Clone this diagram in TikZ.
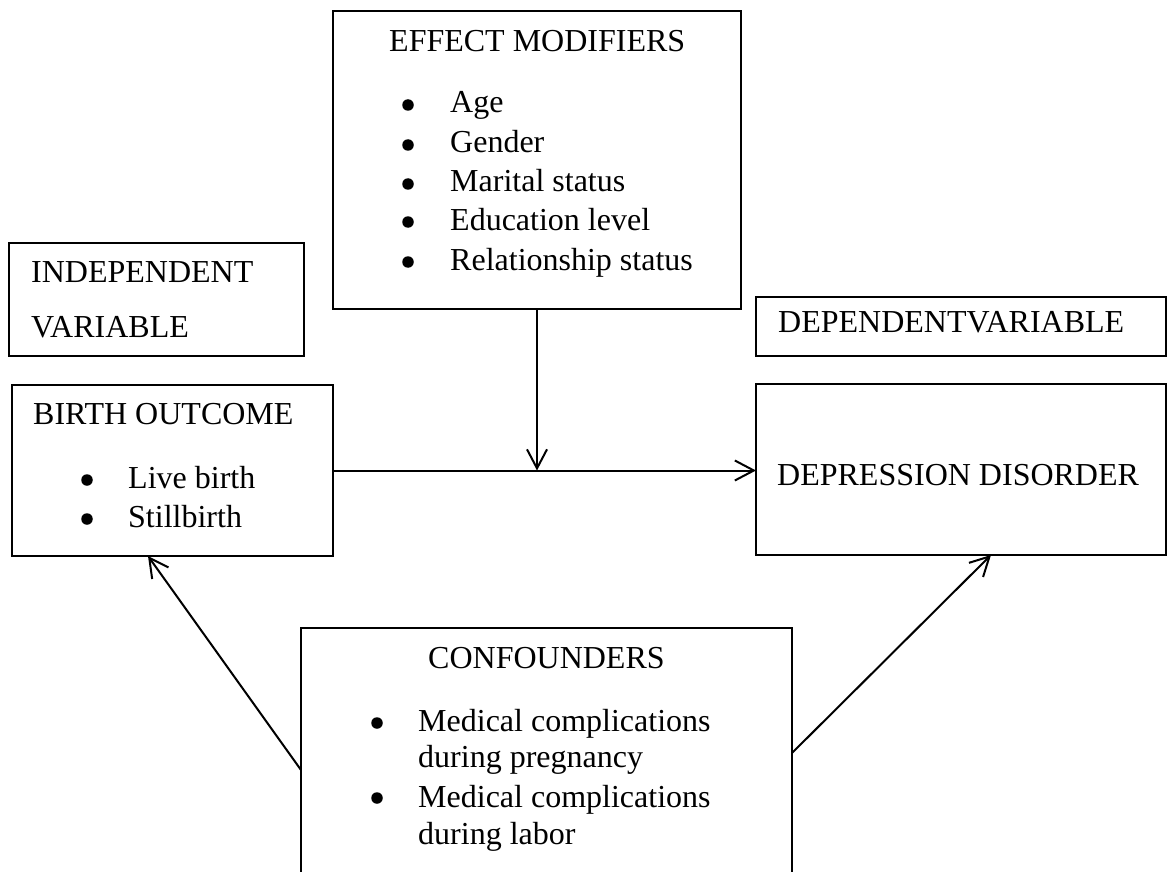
\documentclass[tikz,border=0pt]{standalone}
\usepackage{fontspec}
\setmainfont{Liberation Serif}
\usetikzlibrary{arrows.meta,calc}
\begin{document}
\begin{tikzpicture}[x=1pt,y=-1pt,
 box/.style={draw, line width=2pt, rectangle, inner sep=0pt, outer sep=0pt},
 lbl/.style={anchor=base west, inner sep=0pt, font=\fontsize{32}{38}\selectfont},
 bul/.style={circle, fill, inner sep=0pt, minimum size=11.5pt},
 arr/.style={line width=2pt, -{Straight Barb[length=19pt,width=20pt,line width=2pt]}}]
\useasboundingbox (0,0) rectangle (1176,872);
\clip (0,0) rectangle (1176,872);
% boxes
\node[box, minimum width=408pt, minimum height=298pt] (em) at (537,160) {};
\node[box, minimum width=295pt, minimum height=113pt] (indep) at (156.5,299.5) {};
\node[box, minimum width=321pt, minimum height=171pt] (birth) at (172.5,470.5) {};
\node[box, minimum width=410pt, minimum height=59pt] (dep) at (961,326.5) {};
\node[box, minimum width=410pt, minimum height=171pt] (depr) at (961,469.5) {};
\node[box, minimum width=491pt, minimum height=262pt] (conf) at (546.5,759) {};
% effect modifiers text
\node[lbl] (emt) at (389,52) {EFFECT MODIFIERS};
\node[bul] (emb1) at (408,105) {};
\node[bul] (emb2) at (408,145) {};
\node[bul] (emb3) at (408,184) {};
\node[bul] (emb4) at (408,222) {};
\node[bul] (emb5) at (408,262) {};
\node[lbl] (em1) at (450,113) {Age};
\node[lbl] (em2) at (450,153) {Gender};
\node[lbl] (em3) at (450,192) {Marital status};
\node[lbl] (em4) at (450,230) {Education level};
\node[lbl] (em5) at (450,270) {Relationship status};
% independent
\node[lbl] (ind1) at (31,282) {INDEPENDENT};
\node[lbl] (ind2) at (31,337) {VARIABLE};
% birth outcome
\node[lbl] (bt0) at (33,424) {BIRTH OUTCOME};
\node[bul] (bb1) at (87,480) {};
\node[bul] (bb2) at (87,519) {};
\node[lbl] (bt1) at (128,488) {Live birth};
\node[lbl] (bt2) at (128,527) {Stillbirth};
% dependent
\node[lbl] (dept) at (778,332) {DEPENDENTVARIABLE};
\node[lbl] (deprt) at (777,485) {DEPRESSION DISORDER};
% confounders
\node[lbl] (conft) at (428,668) {CONFOUNDERS};
\node[bul] (cb1) at (377,723) {};
\node[bul] (cb2) at (377,798) {};
\node[lbl] (c1) at (418,731) {Medical complications};
\node[lbl] (c2) at (418,767) {during pregnancy};
\node[lbl] (c3) at (418,807) {Medical complications};
\node[lbl] (c4) at (418,844) {during labor};
% connectors
\draw[arr] (em.south) -- (em.south |- birth.east);
\draw[arr] (birth.east) -- (birth.east -| depr.west);
\coordinate (cl) at ($(conf.north west)+(0,142)$);
\coordinate (btip) at ($(birth.south west)+(136,0)$);
\draw[arr] (cl) -- (btip);
\coordinate (cr) at ($(conf.north east)+(0,125)$);
\coordinate (dtip) at ($(depr.south west)+(235,0)$);
\draw[arr] (cr) -- (dtip);
\end{tikzpicture}
\end{document}
